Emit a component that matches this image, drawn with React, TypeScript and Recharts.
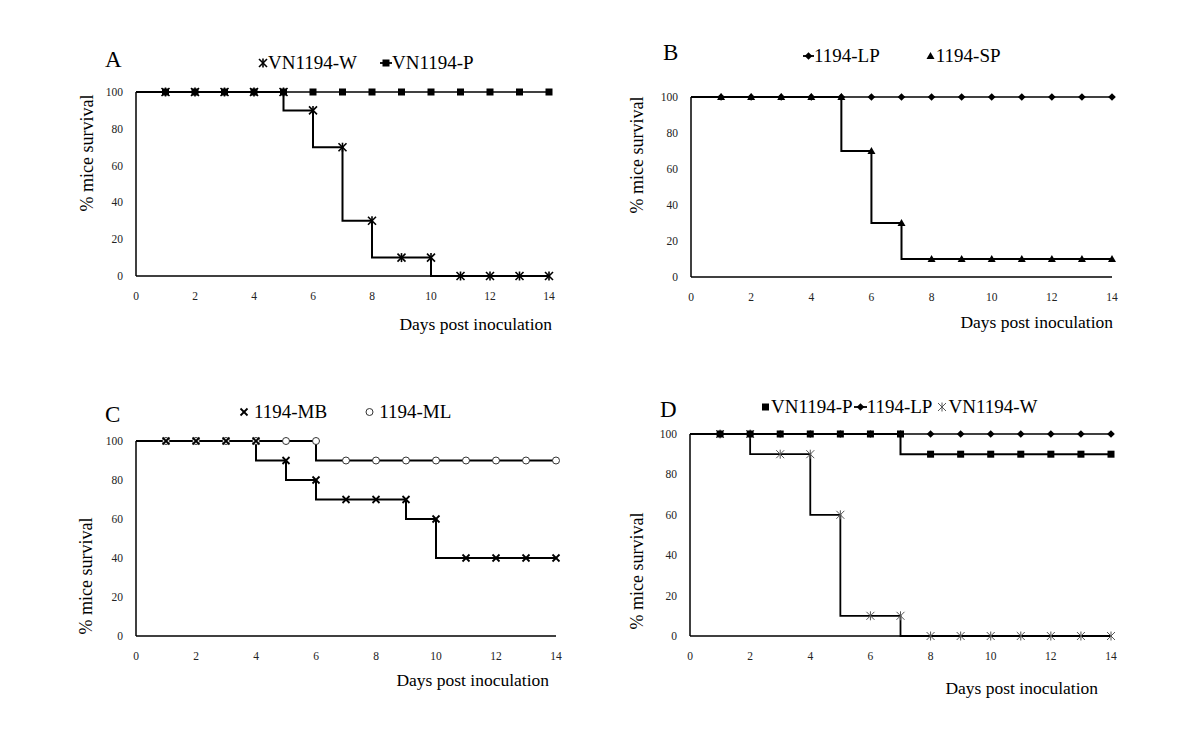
import React from "react";
import { LineChart, Line, XAxis, YAxis, Legend } from "recharts";

const days = [0, 1, 2, 3, 4, 5, 6, 7, 8, 9, 10, 11, 12, 13, 14];
const dayTicks = [0, 2, 4, 6, 8, 10, 12, 14];
const survivalTicks = [0, 20, 40, 60, 80, 100];

// Panel A
const aW = [100, 100, 100, 100, 100, 100, 90, 70, 30, 10, 10, 0, 0, 0, 0];
const aP = [100, 100, 100, 100, 100, 100, 100, 100, 100, 100, 100, 100, 100, 100, 100];
// Panel B
const bLP = [100, 100, 100, 100, 100, 100, 100, 100, 100, 100, 100, 100, 100, 100, 100];
const bSP = [100, 100, 100, 100, 100, 100, 70, 30, 10, 10, 10, 10, 10, 10, 10];
// Panel C
const cMB = [100, 100, 100, 100, 100, 90, 80, 70, 70, 70, 60, 40, 40, 40, 40];
const cML = [100, 100, 100, 100, 100, 100, 100, 90, 90, 90, 90, 90, 90, 90, 90];
// Panel D
const dP = [100, 100, 100, 100, 100, 100, 100, 100, 90, 90, 90, 90, 90, 90, 90];
const dLP = [100, 100, 100, 100, 100, 100, 100, 100, 100, 100, 100, 100, 100, 100, 100];
const dW = [100, 100, 100, 90, 90, 60, 10, 10, 0, 0, 0, 0, 0, 0, 0];

const SERIF = "'Liberation Serif', 'Times New Roman', serif";

type Shape = "square" | "star" | "thinStar" | "diamond" | "triangle" | "cross" | "circle";

const Marker = ({ shape, x, y }: { shape: Shape; x: number; y: number }) => {
  switch (shape) {
    case "square":
      return <rect x={x - 3.5} y={y - 3.5} width={7} height={7} fill="#000" />;
    case "diamond":
      return <polygon points={`${x},${y - 3.8} ${x + 3.8},${y} ${x},${y + 3.8} ${x - 3.8},${y}`} fill="#000" />;
    case "triangle":
      return <polygon points={`${x},${y - 4} ${x + 4},${y + 3} ${x - 4},${y + 3}`} fill="#000" />;
    case "circle":
      return <circle cx={x} cy={y} r={3.5} fill="#fff" stroke="#333" strokeWidth={1} />;
    case "cross":
      return (
        <g stroke="#000" strokeWidth={1.8}>
          <line x1={x - 3.5} y1={y - 3.5} x2={x + 3.5} y2={y + 3.5} />
          <line x1={x - 3.5} y1={y + 3.5} x2={x + 3.5} y2={y - 3.5} />
        </g>
      );
    case "star":
    case "thinStar": {
      const thin = shape === "thinStar";
      return (
        <g stroke={thin ? "#555" : "#000"} strokeWidth={thin ? 1 : 1.6}>
          <line x1={x - 4} y1={y - 4} x2={x + 4} y2={y + 4} />
          <line x1={x - 4} y1={y + 4} x2={x + 4} y2={y - 4} />
          <line x1={x} y1={y - 4.5} x2={x} y2={y + 4.5} />
        </g>
      );
    }
  }
  return null;
};

// tick labels drawn by hand so the serif font really applies
const XTick = (props: any) => (
  <text x={props.x} y={props.y} dy="0.71em" textAnchor="middle" fontFamily={SERIF} fontSize={11.5} fill="#222">
    {props.payload.value}
  </text>
);

const YTick = (props: any) => (
  <text x={props.x} y={props.y} dy="0.355em" textAnchor="end" fontFamily={SERIF} fontSize={11.5} fill="#222">
    {props.payload.value}
  </text>
);

interface SeriesDef {
  key: string;
  values: number[];
  shape: Shape;
  width: number;
}

interface LegendItem {
  name: string;
  shape: Shape;
  iconWidth: number;
  line: boolean;
  gap: number;
  textGap: number;
}

interface PanelDef {
  letter: string;
  series: SeriesDef[];
  legend: LegendItem[];
  x0: number;
  x1: number;
  y0: number;
  y1: number;
  legendX: number;
  legendY: number;
  letterX: number;
  letterY: number;
  xTitleX: number;
  xTitleY: number;
  yTitleX: number;
  yTitleY: number;
}

const toRows = (series: SeriesDef[]) =>
  days.map((day, i) => {
    const row: Record<string, number> = { day };
    series.forEach((s) => {
      row[s.key] = s.values[i];
    });
    return row;
  });

const panels: PanelDef[] = [
  {
    letter: "A",
    series: [
      { key: "VN1194-W", values: aW, shape: "star", width: 2 },
      { key: "VN1194-P", values: aP, shape: "square", width: 1.6 },
    ],
    legend: [
      { name: "VN1194-W", shape: "star", iconWidth: 10, line: false, gap: 0, textGap: 0 },
      { name: "VN1194-P", shape: "square", iconWidth: 12, line: true, gap: 23, textGap: 0 },
    ],
    x0: 136, x1: 549, y0: 92, y1: 276,
    legendX: 258, legendY: 63,
    letterX: 105, letterY: 67,
    xTitleX: 552, xTitleY: 330,
    yTitleX: 93, yTitleY: 153,
  },
  {
    letter: "B",
    series: [
      { key: "1194-LP", values: bLP, shape: "diamond", width: 1.4 },
      { key: "1194-SP", values: bSP, shape: "triangle", width: 2 },
    ],
    legend: [
      { name: "1194-LP", shape: "diamond", iconWidth: 11, line: true, gap: 0, textGap: 0 },
      { name: "1194-SP", shape: "triangle", iconWidth: 9, line: false, gap: 46, textGap: 1 },
    ],
    x0: 691, x1: 1112, y0: 97, y1: 277,
    legendX: 803, legendY: 56,
    letterX: 663, letterY: 60,
    xTitleX: 1113, xTitleY: 328,
    yTitleX: 643, yTitleY: 155,
  },
  {
    letter: "C",
    series: [
      { key: "1194-ML", values: cML, shape: "circle", width: 2 },
      { key: "1194-MB", values: cMB, shape: "cross", width: 2 },
    ],
    legend: [
      { name: "1194-MB", shape: "cross", iconWidth: 8, line: false, gap: 0, textGap: 6 },
      { name: "1194-ML", shape: "circle", iconWidth: 9, line: false, gap: 38, textGap: 5 },
    ],
    x0: 136, x1: 556, y0: 441, y1: 636,
    legendX: 240, legendY: 412,
    letterX: 105, letterY: 422,
    xTitleX: 549, xTitleY: 686,
    yTitleX: 92, yTitleY: 576,
  },
  {
    letter: "D",
    series: [
      { key: "VN1194-W", values: dW, shape: "thinStar", width: 1.8 },
      { key: "1194-LP", values: dLP, shape: "diamond", width: 1.6 },
      { key: "VN1194-P", values: dP, shape: "square", width: 2 },
    ],
    legend: [
      { name: "VN1194-P", shape: "square", iconWidth: 7, line: false, gap: 0, textGap: 2 },
      { name: "1194-LP", shape: "diamond", iconWidth: 13, line: true, gap: 1, textGap: 0 },
      { name: "VN1194-W", shape: "thinStar", iconWidth: 8, line: false, gap: 6, textGap: 2 },
    ],
    x0: 690, x1: 1111, y0: 434, y1: 636,
    legendX: 762, legendY: 407,
    letterX: 660, letterY: 417,
    xTitleX: 1098, xTitleY: 694,
    yTitleX: 643, yTitleY: 571,
  },
];

const MARGIN_TOP = 60;
const MARGIN_LEFT = 30;
const Y_AXIS_W = 40;

const Panel = ({ p }: { p: PanelDef }) => {
  const left = p.x0 - MARGIN_LEFT - Y_AXIS_W;
  const top = p.y0 - MARGIN_TOP;
  const width = p.x1 - p.x0 + MARGIN_LEFT + Y_AXIS_W + 20;
  const height = p.y1 - p.y0 + MARGIN_TOP + 40;
  const data = toRows(p.series);

  const legendContent = () => (
    <div
      style={{
        display: "flex",
        alignItems: "center",
        height: 24,
        lineHeight: "24px",
        fontFamily: SERIF,
        fontSize: 19,
        color: "#000",
        whiteSpace: "nowrap",
      }}
    >
      {p.legend.map((item) => (
        <span key={item.name} style={{ display: "flex", alignItems: "center", marginLeft: item.gap }}>
          <svg width={item.iconWidth} height={12} style={{ overflow: "visible" }}>
            {item.line && <line x1={0} y1={6} x2={item.iconWidth} y2={6} stroke="#000" strokeWidth={1.8} />}
            <Marker shape={item.shape} x={item.iconWidth / 2} y={6} />
          </svg>
          <span style={{ marginLeft: item.textGap }}>{item.name}</span>
        </span>
      ))}
    </div>
  );

  return (
    <div style={{ position: "absolute", left, top }}>
      <LineChart
        width={width}
        height={height}
        data={data}
        margin={{ top: MARGIN_TOP, right: 20, left: MARGIN_LEFT, bottom: 20 }}
      >
        <XAxis
          type="number"
          dataKey="day"
          domain={[0, 14]}
          ticks={dayTicks}
          tickLine={false}
          tickSize={6}
          tickMargin={10}
          height={20}
          axisLine={{ stroke: "#000", strokeWidth: 1.5 }}
          tick={<XTick />}
        />
        <YAxis
          type="number"
          domain={[0, 100]}
          ticks={survivalTicks}
          width={Y_AXIS_W}
          tickLine={false}
          tickSize={6}
          tickMargin={7}
          axisLine={{ stroke: "#000", strokeWidth: 1.5 }}
          tick={<YTick />}
        />
        <Legend
          layout="horizontal"
          verticalAlign="middle"
          align="center"
          content={legendContent}
          wrapperStyle={{
            left: p.legendX - left,
            top: p.legendY - 12 - top,
            width: "auto",
            margin: 0,
            padding: 0,
          }}
        />
        {p.series.map((s) => (
          <Line
            key={s.key}
            type="stepBefore"
            dataKey={s.key}
            stroke="#000"
            strokeWidth={s.width}
            isAnimationActive={false}
            activeDot={false}
            legendType="none"
            dot={(props: any) => {
              const { cx, cy, index } = props;
              if (index === 0 || cx == null || cy == null) {
                return <g key={`${s.key}-${index}`} />;
              }
              return (
                <g key={`${s.key}-${index}`}>
                  <Marker shape={s.shape} x={cx} y={cy} />
                </g>
              );
            }}
          />
        ))}
      </LineChart>
    </div>
  );
};

const App = () => (
  <div style={{ position: "absolute", left: 0, top: 0, width: 1200, height: 752, background: "#fff" }}>
    {panels.map((p) => (
      <Panel key={p.letter} p={p} />
    ))}
    <svg
      width={1200}
      height={752}
      style={{ position: "absolute", left: 0, top: 0, pointerEvents: "none" }}
      fontFamily={SERIF}
    >
      {panels.map((p) => (
        <g key={p.letter}>
          <text x={p.letterX} y={p.letterY} fontSize={23} fill="#000">
            {p.letter}
          </text>
          <text x={p.xTitleX} y={p.xTitleY} fontSize={17.5} textAnchor="end" fill="#000">
            Days post inoculation
          </text>
          <text
            transform={`translate(${p.yTitleX},${p.yTitleY}) rotate(-90)`}
            fontSize={18}
            textAnchor="middle"
            fill="#000"
          >
            % mice survival
          </text>
        </g>
      ))}
    </svg>
  </div>
);

export default App;
